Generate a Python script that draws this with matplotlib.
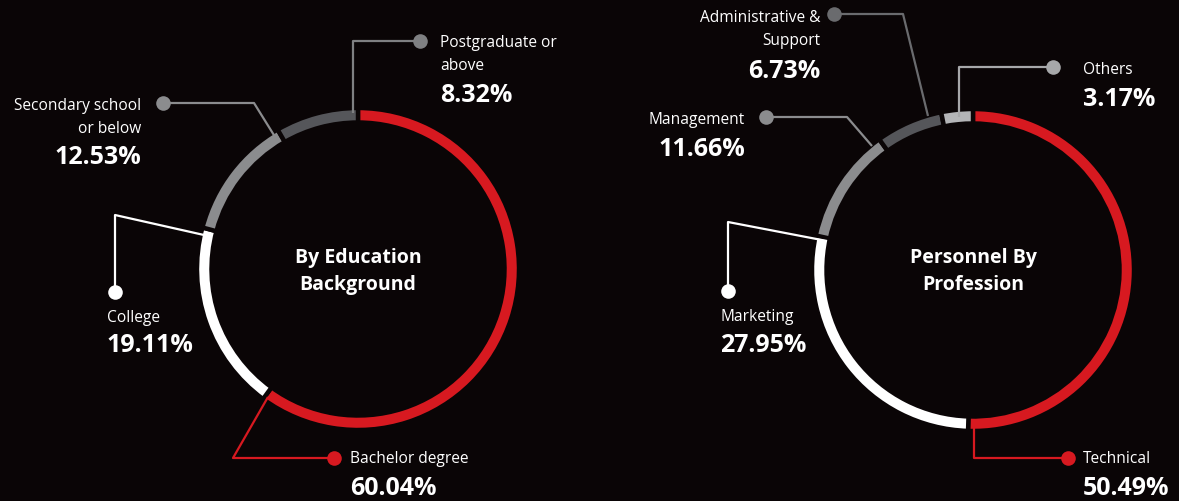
import matplotlib
matplotlib.use("Agg")
import matplotlib.pyplot as plt

# ---------------- data ----------------
edu_labels = ["Bachelor degree", "College", "Secondary school\nor below", "Postgraduate or\nabove"]
edu_values = [60.04, 19.11, 12.53, 8.32]
edu_title = "By Education\nBackground"

prof_labels = ["Technical", "Marketing", "Management", "Administrative &\nSupport", "Others"]
prof_values = [50.49, 27.95, 11.66, 6.73, 3.17]
prof_title = "Personnel By\nProfession"

# ---------------- style ----------------
BG = "#0a0506"
RED = "#d71920"
WHITE = "#ffffff"
GRAY = "#8b8c8e"
DARK = "#55565a"
LIGHT = "#b4b5b7"
edu_colors = [RED, WHITE, GRAY, DARK]
prof_colors = [RED, WHITE, GRAY, DARK, LIGHT]

W, H = 1179, 502
fig = plt.figure(figsize=(W / 100, H / 100), dpi=100, facecolor=BG)
ax = fig.add_axes([0, 0, 1, 1])
ax.set_facecolor(BG)

def Y(y):
    return H - y

FONT = ["Open Sans", "Noto Sans", "DejaVu Sans"]

def donut(values, colors, cx, cy):
    ax.pie(values, colors=colors, startangle=90, counterclock=False,
           radius=161, center=(cx, Y(cy)),
           wedgeprops=dict(width=14.5, edgecolor=BG, linewidth=3.2))

donut(edu_values, edu_colors, 358, 270)
donut(prof_values, prof_colors, 973, 271)

def leader(pts, color, dot):
    xs = [p[0] for p in pts]
    ys = [Y(p[1]) for p in pts]
    ax.plot(xs, ys, color=color, lw=1.6, solid_capstyle="butt", zorder=3)
    ax.plot([dot[0]], [Y(dot[1])], "o", ms=10.5, color=color, mec="none", zorder=4)

def label(x, y, lines, pct, ha, lh=23, gap=29):
    for i, t in enumerate(lines):
        ax.text(x, Y(y + i * lh), t, color="white", fontsize=11.2, family=FONT,
                ha=ha, va="center")
    ax.text(x, Y(y + (len(lines) - 1) * lh + gap), pct, color="white", fontsize=18,
            fontweight="bold", family=FONT, ha=ha, va="center")

def center_title(cx, cy, text):
    l1, l2 = text.split("\n")
    ax.text(cx, Y(cy - 13), l1, color="white", fontsize=14, fontweight="bold",
            family=FONT, ha="center", va="center")
    ax.text(cx, Y(cy + 14), l2, color="white", fontsize=14, fontweight="bold",
            family=FONT, ha="center", va="center")

# ---- left donut annotations ----
leader([(420, 42), (353, 42), (353, 114)], "#7f8082", (420, 42))
label(440, 43, edu_labels[3].split("\n"), f"{edu_values[3]:.2f}%", "left")

leader([(163, 104), (254, 104), (277, 141)], "#8b8c8e", (163, 104))
label(141, 106, edu_labels[2].split("\n"), f"{edu_values[2]:.2f}%", "right")

leader([(115, 293), (115, 216), (204, 236)], WHITE, (115, 293))
label(107, 318, edu_labels[1].split("\n"), f"{edu_values[1]:.2f}%", "left", gap=28)

leader([(334, 459), (233, 459), (268, 398)], RED, (334, 459))
label(350, 459, edu_labels[0].split("\n"), f"{edu_values[0]:.2f}%", "left", gap=30)

center_title(358, 271, edu_title)

# ---- right donut annotations ----
leader([(834, 15), (903, 15), (928, 117)], "#6a6b6e", (834, 15))
label(820, 18, prof_labels[3].split("\n"), f"{prof_values[3]:.2f}%", "right", gap=30)

leader([(1053, 68), (959, 68), (959, 118)], "#a7a8aa", (1053, 68))
label(1083, 70, prof_labels[4].split("\n"), f"{prof_values[4]:.2f}%", "left", gap=29)

leader([(766, 118), (847, 118), (872, 147)], "#8b8c8e", (766, 118))
label(745, 120, prof_labels[2].split("\n"), f"{prof_values[2]:.2f}%", "right", gap=30)

leader([(728, 292), (728, 223), (827, 242)], WHITE, (728, 292))
label(720, 317, prof_labels[1].split("\n"), f"{prof_values[1]:.2f}%", "left", gap=29)

leader([(1068, 459), (974, 459), (974, 428)], RED, (1068, 459))
label(1083, 459, prof_labels[0].split("\n"), f"{prof_values[0]:.2f}%", "left", gap=30)

center_title(973, 271, prof_title)

ax.set_xlim(0, W)
ax.set_ylim(0, H)
ax.set_aspect("auto")
ax.axis("off")

fig.savefig("out.png", dpi=100, facecolor=BG)
